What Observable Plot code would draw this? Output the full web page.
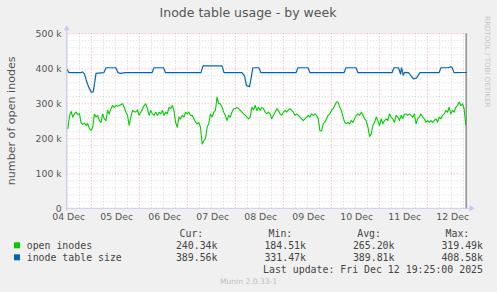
<!DOCTYPE html>
<html><head><meta charset="utf-8">
<script src="https://cdn.jsdelivr.net/npm/d3@7"></script>
<script src="https://cdn.jsdelivr.net/npm/@observablehq/plot@0.6"></script>
<style>
html,body{margin:0;padding:0;background:#f0f0f0;}
#chart{width:497px;height:292px;position:relative;overflow:hidden;background:#f0f0f0;}
</style></head><body><div id="chart"></div>
<script>
// ---- data ----
const title = "Inode table usage - by week";
const yLabel = "number of open inodes";
const baseDateUTC = Date.UTC(2025, 11, 4); // 04 Dec 2025 00:00
const domainHours = [11.92, 211.42];        // hours after base
const yTickValues = [0, 100000, 200000, 300000, 400000, 500000];
const dayLabelDays = [4, 5, 6, 7, 8, 9, 10, 11, 12];

const seriesNames = ["open inodes", "inode table size"];
const seriesColors = ["#00cc00", "#0066b3"];
const curValues = ["240.34k", "389.56k"];
const minValues = ["184.51k", "331.47k"];
const avgValues = ["265.20k", "389.81k"];
const maxValues = ["319.49k", "408.58k"];
const lastUpdate = "Last update: Fri Dec 12 19:25:00 2025";
const muninVersion = "Munin 2.0.33-1";
const watermark = "RRDTOOL / TOBI OETIKER";

// open inodes, in thousands, regular samples
const openStartHours = 12.24;
const openStepHours = 0.829;
const openInodesK = [
229,265,278,262,271,276,269,272,245,241,245,238,243,229,224,233,271,262,267,252,247,271,257,252,281,271,286,295,290,295,293,295,298,300,290,276,267,238,262,
281,278,276,283,267,276,284,295,300,286,267,281,271,267,276,267,276,271,281,267,276,271,290,286,295,281,247,233,262,257,267,262,276,271,276,267,267,257,247,243,247,
233,185,195,200,233,243,271,262,276,281,319,300,300,290,276,267,252,267,262,276,286,286,290,286,281,276,271,267,262,257,262,290,283,295,281,290,281,290,286,276,271,
276,271,257,267,276,286,281,271,267,276,281,276,283,286,281,276,267,271,267,262,257,252,257,262,267,262,271,267,271,267,257,224,222,243,247,257,267,271,281,286,295,
305,305,290,281,262,247,243,247,243,252,247,257,267,271,267,276,267,257,252,233,207,214,238,247,262,252,238,257,243,252,257,252,271,262,257,247,267,262,252,267,257,
271,271,267,271,267,262,271,243,257,262,271,262,257,247,252,247,252,247,252,257,247,262,257,267,271,281,276,290,271,281,276,290,295,305,295,300,286,240
];

// inode table size: breakpoints (hours after base, thousands)
const tableHours = [11.92,12.82,18.57,19.57,20.57,21.57,22.72,23.92,24.92,25.57,26.32,30.22,31.32,36.22,37.32,38.57,41.07,
54.32,55.32,60.07,61.07,78.82,79.82,89.32,90.32,99.32,100.57,101.57,103.07,103.92,104.72,107.72,108.82,
126.32,127.32,132.32,133.32,150.32,151.32,156.32,157.32,174.32,175.32,177.57,178.57,179.07,179.92,180.72,182.57,
184.07,185.07,186.57,188.32,197.82,198.82,202.57,203.57,204.32,205.32,211.42];
const tableSizeK = [398,389,389,391,385,365,347,333,334,357,387,389,403,403,389,387,389,
389,403,403,389,389,408.5,408.5,389,389,380,352,349,375,403,403,389,
389,403,403,389,389,403,403,389,389,403,403,385,403,382,390,389,
378,371,374,389,389,403,403,406,404,389,389.5];

// ---- build ----
const H = 3600 * 1000;
const t = h => new Date(baseDateUTC + h * H);
const openData = openInodesK.map((v, i) => ({date: t(openStartHours + i * openStepHours), value: v * 1000}));
const tableData = tableSizeK.map((v, i) => ({date: t(tableHours[i]), value: v * 1000}));
const xDomain = domainHours.map(t);
const minorX = d3.utcHour.every(6).range(xDomain[0], xDomain[1]).filter(d => d.getUTCHours() !== 0);
const majorX = d3.utcDay.range(xDomain[0], xDomain[1]);
const minorY = d3.range(0, 500001, 20000).filter(v => v % 100000 !== 0);
const majorY = yTickValues.filter(v => v > 0);
const dayTicks = dayLabelDays.map(d => new Date(Date.UTC(2025, 11, d, 12)));

const W = 497, Ht = 292, mL = 66.7, mR = 31.3, mT = 33.3, mB = 83.7;
const fmtDay = d3.utcFormat("%d %b");

const plot = Plot.plot({
  width: W, height: Ht,
  marginLeft: mL, marginRight: mR, marginTop: mT, marginBottom: mB,
  style: {background: "transparent", fontFamily: "DejaVu Sans", fontSize: "9.3px", color: "#555"},
  x: {type: "utc", domain: xDomain, ticks: dayTicks, tickFormat: fmtDay, tickSize: 0, tickPadding: 4.5, label: null},
  y: {domain: [0, 500000], ticks: yTickValues, tickFormat: v => v === 0 ? "0" : (v / 1000) + " k", tickSize: 0, tickPadding: 5.5, label: null},
  marks: [
    Plot.frame({fill: "white", stroke: "none"}),
    Plot.ruleY(minorY, {stroke: "#d4d4d4", strokeDasharray: "1,2"}),
    Plot.ruleX(minorX, {stroke: "#d4d4d4", strokeDasharray: "1,2"}),
    Plot.ruleY(majorY, {stroke: "#eeaaaa", strokeDasharray: "1,2"}),
    Plot.ruleX(majorX, {stroke: "#eeaaaa", strokeDasharray: "1,2"}),
    Plot.ruleX([xDomain[1]], {stroke: "#8c8c8c", strokeWidth: 1.5}),
    Plot.line(openData, {x: "date", y: "value", stroke: seriesColors[0], strokeWidth: 1.1}),
    Plot.line(tableData, {x: "date", y: "value", stroke: seriesColors[1], strokeWidth: 1.2})
  ]
});
document.getElementById("chart").appendChild(plot);

const svg = d3.select(plot);
// nudge day labels slightly right, like rrdtool's centring
svg.selectAll("g[aria-label^='x-axis'] text").attr("dx", 1.3);

const x0 = mL, y0 = Ht - mB, yTop = mT, xRight = W - mR;
const axisCol = "#c4c8f2";
svg.append("line").attr("x1", x0).attr("x2", xRight + 5).attr("y1", y0).attr("y2", y0).attr("stroke", axisCol);
svg.append("line").attr("x1", x0).attr("x2", x0).attr("y1", y0 + 2).attr("y2", yTop - 4).attr("stroke", axisCol);
svg.append("path").attr("d", `M${xRight + 9},${y0} l-5,-3 l0,6 z`).attr("fill", axisCol);
svg.append("path").attr("d", `M${x0},${yTop - 8} l-3,5 l6,0 z`).attr("fill", axisCol);

const txt = (s, x, y, o = {}) => svg.append("text").text(s).attr("x", x).attr("y", y)
  .attr("font-family", o.ff || "DejaVu Sans").attr("font-size", o.fs || "9.3px")
  .attr("fill", o.fill || "#555").attr("text-anchor", o.anchor || "start")
  .attr("transform", o.rot ? `rotate(${o.rot},${x},${y})` : null);

txt(title, 248, 17, {fs: "12.5px", anchor: "middle"});
txt(yLabel, 15.5, 120.8, {fs: "11.1px", anchor: "middle", rot: -90});
txt(watermark, 485, 16, {fs: "7.1px", fill: "#c4c4c4", rot: 90});

const mono = {ff: "DejaVu Sans Mono", fs: "9.9px", fill: "#444", anchor: "end"};
txt("Cur:", 203.3, 237, mono);
txt("Min:", 292.3, 237, mono);
txt("Avg:", 381, 237, mono);
txt("Max:", 469.3, 237, mono);
seriesNames.forEach((name, i) => {
  const yb = 249 + i * 12;
  svg.append("rect").attr("x", 14).attr("y", yb - 6.7).attr("width", 6).attr("height", 6).attr("fill", seriesColors[i]);
  txt(name, 26.7, yb, {...mono, anchor: "start"});
  txt(curValues[i], 217.5, yb, mono);
  txt(minValues[i], 306, yb, mono);
  txt(avgValues[i], 394.5, yb, mono);
  txt(maxValues[i], 483, yb, mono);
});
txt(lastUpdate, 483, 273, mono);
txt(muninVersion, 248.5, 284, {fs: "7.6px", fill: "#bcbcbc", anchor: "middle"});
</script></body></html>
